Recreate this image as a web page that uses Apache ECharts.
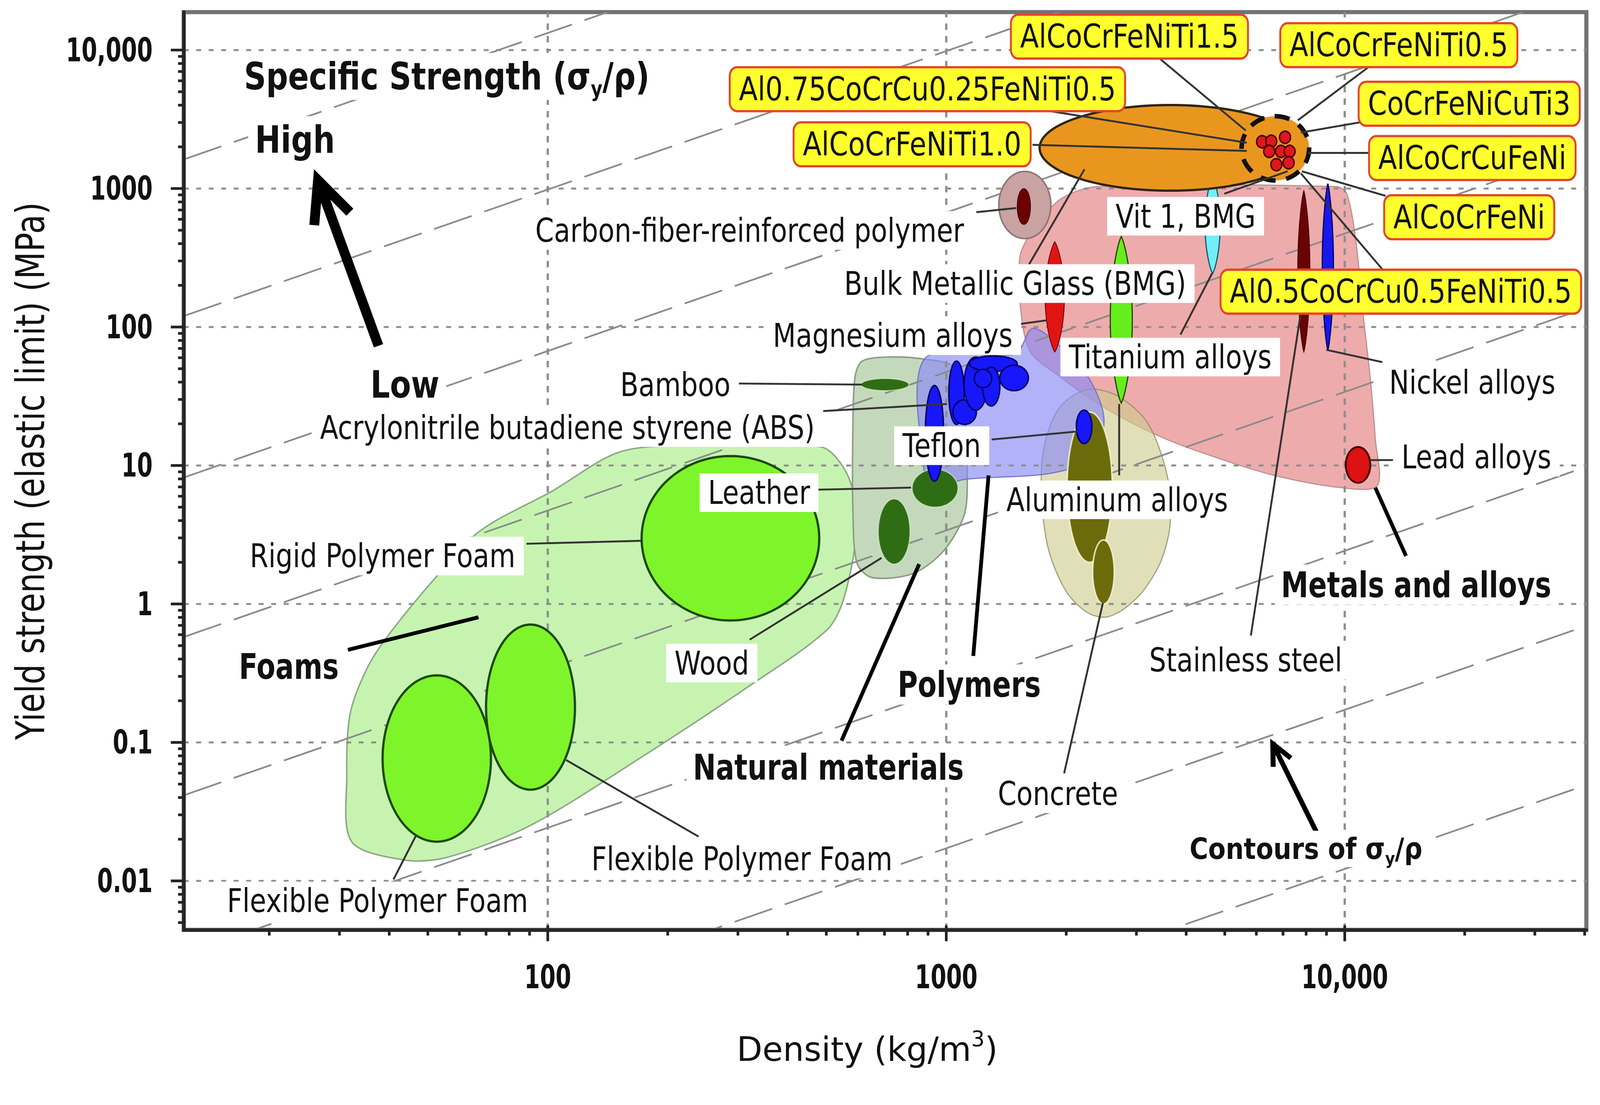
<!DOCTYPE html>
<html>
<head>
<meta charset="utf-8">
<title>Yield strength vs density</title>
<script src="https://cdn.jsdelivr.net/npm/echarts@6/dist/echarts.min.js"></script>
<style>
html, body { margin: 0; padding: 0; background: #ffffff; overflow: hidden; }
#chart { width: 4224px; height: 2829px; transform-origin: 0 0; }
</style>
</head>
<body>
<div id="chart"></div>
<script>
// ---------------- axes ----------------
const densityRange = [12.2, 40400];          // kg/m3
const strengthRange = [0.00443, 18800];      // MPa
const densityTicks = [100, 1000, 10000];
const densityTickLabels = ['100', '1000', '10,000'];
const strengthTicks = [0.01, 0.1, 1, 10, 100, 1000, 10000];
const strengthTickLabels = ['0.01', '0.1', '1', '10', '100', '1000', '10,000'];
// contours of constant specific strength sigma/rho (MPa per kg/m3)
const specificStrengthContours = [133, 9.84, 0.671, 0.0473, 0.0034, 0.000242, 0.0000172, 0.00000122];

// ---------------- material family envelopes [density, strength] ----------------
const foamsEnvelope = [[32.2,0.0192],[31.3,0.0578],[31.9,0.16],[35.2,0.343],[39.9,0.60],[52.6,1.58],[67.8,3.39],[102,6.47],[154,12.7],[261,13.9],[486,13.6],[566,8.48],[597,3.82],[556,1.15],[503,0.654],[316,0.249],[172,0.0784],[90.5,0.0252],[56.4,0.0149],[44.1,0.0141]];
const naturalEnvelope = [[590,43.3],[615,56.7],[712,60.7],[876,58.7],[1045,51.3],[1109,26.0],[1129,7.93],[1109,4.38],[985,2.42],[826,1.66],[652,1.55],[597,1.97],[583,4.76],[583,18.5]];
const metalsEnvelope = [[1534,331],[1675,533],[1941,843],[2386,1033],[9539,1033],[10120,917],[10670,413],[11120,124],[11590,42.5],[11930,15.6],[12070,7.16],[9770,6.92],[6501,8.63],[4057,13.4],[3149,18.2],[2386,28.3],[1941,43.3],[1627,66],[1534,142]];
const ceramicsEnvelope = [[2250,35.3],[2685,31.9],[3204,20.2],[3584,8.48],[3648,3.82],[3459,2.04],[3112,1.23],[2765,0.903],[2501,0.802],[2250,0.873],[2000,1.23],[1809,2.42],[1735,5.65],[1756,13.2],[1919,26.0]];
const polymersEnvelope = [[881,58.7],[1489,63.9],[1646,97.7],[1941,71.9],[2290,41.8],[2487,21.9],[2344,11.5],[1830,8.78],[1109,7.93],[929,6.92],[881,8.63]];

// ---------------- material property ranges [densityMin, densityMax, strengthMin, strengthMax] ----------------
const rigidPolymerFoam = [172, 480, 0.76, 11.7];
const flexibleFoamA = [38.5, 72, 0.0192, 0.305];
const flexibleFoamB = [70, 117, 0.0456, 0.71];
const bamboo = [611, 806, 34.7, 42.5];
const leather = [821, 1070, 5.0, 9.4];
const wood = [675, 811, 1.94, 5.74];
const polymerGrades = [[886,985,7.7,37.8],[1015,1109,19.8,56.7],[1039,1190,19.8,29.8],[1109,1269,25.1,60.7],[1142,1507,47.9,61.8],[1363,1607,34.7,53.0],[1233,1363,26.9,51.3],[1176,1300,36.5,49.5]];
const teflon = [2120, 2320, 14.4, 25.1];
const concreteA = [2010, 2610, 2.0, 24.3];
const concreteB = [2330, 2640, 1.0, 2.9];
const aluminumAlloys = [2580, 2930, 28.3, 450];
const magnesiumAlloys = [1770, 1980, 66, 413];
const vit1 = [4460, 4870, 244, 1224];
const stainlessSteel = [7620, 8180, 66, 965];
const nickelAlloys = [8780, 9370, 68, 1086];
const leadAlloys = [10060, 11590, 7.5, 13.6];
const cfrpOuter = [1355, 1830, 435, 1330];
const cfrpInner = [1507, 1627, 551, 998];
const bulkMetallicGlass = [1715, 7760, 965, 4010];
const heaGroup = [5510, 8140, 1144, 3330];
// high-entropy alloys [density, strength]
const heaAlloys = [[6203,2179],[6540,2198],[6918,1855],[7273,1855],[6737,1488],[7230,1536],[6463,1855],[7083,2344]];

// ---------------- annotations (anchors in data units) ----------------
const materialLabels = [
  ['Carbon-fiber-reinforced polymer', 321, 498],
  ['Bulk Metallic Glass (BMG)', 1489, 206],
  ['Magnesium alloys', 734, 86.7],
  ['Bamboo', 209, 38.4],
  ['Acrylonitrile butadiene styrene (ABS)', 112, 18.8],
  ['Teflon', 974, 13.9],
  ['Leather', 339, 6.36],
  ['Rigid Polymer Foam', 38.5, 2.22],
  ['Wood', 258, 0.374],
  ['Vit 1, BMG', 3987, 631],
  ['Titanium alloys', 3648, 60.7],
  ['Aluminum alloys', 2685, 5.65],
  ['Nickel alloys', 20900, 39.7],
  ['Lead alloys', 21400, 11.5],
  ['Stainless steel', 5643, 0.393],
  ['Concrete', 1907, 0.0426],
  ['Flexible Polymer Foam', 307, 0.01438],
  ['Flexible Polymer Foam', 37.4, 0.00717]
];
const alloyLabels = [
  ['AlCoCrFeNiTi1.5', 2882, 12510],
  ['AlCoCrFeNiTi0.5', 13670, 10850],
  ['Al0.75CoCrCu0.25FeNiTi0.5', 897, 5220],
  ['CoCrFeNiCuTi3', 20530, 4096],
  ['AlCoCrFeNiTi1.0', 821, 2088],
  ['AlCoCrCuFeNi', 20900, 1661],
  ['AlCoCrFeNi', 20530, 621],
  ['Al0.5CoCrCu0.5FeNiTi0.5', 13830, 180]
];
const familyLabels = [
  ['Foams', 22.4, 0.355],
  ['Natural materials', 506, 0.0662],
  ['Polymers', 1142, 0.262],
  ['Metals and alloys', 15110, 1.38]
];
const guideLabels = [
  ['Specific Strength (σ{s|y}/ρ)', 55.8, 6452],
  ['High', 23.2, 2254],
  ['Low', 43.8, 38.4]
];
const contourLabels = [['Contours of σ{s|y}/ρ', 7993, 0.01704]];

const materialLeaders = [
  [[1190,675],[1498,723]], [[1507,104.5],[1787,111.8]], [[1598,270],[2223,1378]],
  [[299.5,39.1],[615,38.4]], [[489,24.7],[1003,27.8]], [[1300,15.4],[2134,17.6]],
  [[474,6.69],[816,6.92]], [[88.4,2.72],[172,2.86]], [[321,0.552],[688,2.15]],
  [[2716,8.48],[2716,27.8]], [[3870,88.2],[4647,244]], [[4986,917],[7189,1332]],
  [[1976,0.0598],[2472,1.017]], [[5813,0.591],[7807,142]], [[8993,68.4],[12430,55.8]],
  [[11520,10.94],[13270,10.94]], [[111.2,0.0746],[239,0.0209]], [[46.7,0.02125],[41.0,0.01024]],
  [[3420,8759],[5643,2626]], [[11460,7519],[7625,3112]], [[10930,3007],[7761,2538]],
  [[11590,1808],[8088,1808]], [[12660,886],[7807,1332]], [[12430,261],[7761,1288]],
  [[1756,3687],[5677,2142]], [[1646,2070],[5677,1870]]
];
const familyLeaders = [
  [[31.5,0.466],[67.0,0.802]], [[546,0.103],[855,1.94]],
  [[1169,0.421],[1277,8.48]], [[11930,6.92],[14250,2.22]]
];
const directionArrows = [
  [[37.6,73.2],[25.9,1378]],
  [[8681,0.01985],[6501,0.1065]]
];

// ---------------- styles ----------------
const FONT = '"DejaVu Sans", "Noto Sans", sans-serif';
const envelopeLayers = [
  {pts: foamsEnvelope, fill: '#c6f4b0', stroke: '#8ea887', lw: 4},
  {pts: naturalEnvelope, fill: '#c4d9bb', stroke: '#8c9c88', lw: 4},
  {pts: metalsEnvelope, fill: '#eeabab', stroke: '#b89090', lw: 3},
  {pts: ceramicsEnvelope, fill: 'rgba(206,204,140,0.62)', stroke: 'rgba(140,140,110,0.8)', lw: 3},
  {pts: polymersEnvelope, fill: 'rgba(138,138,246,0.66)', stroke: 'rgba(110,110,190,0.9)', lw: 3}
];
const foamStyle = {fill: '#7ef42b', stroke: '#1d4a0b', lw: 6};
const naturalStyle = {fill: '#2f6d14', stroke: 'rgba(230,245,220,0.6)', lw: 3};
const oliveStyle = {fill: '#6c6b0b', stroke: 'rgba(245,245,210,0.85)', lw: 4};
const blueStyle = {fill: '#1717fb', stroke: '#06066a', lw: 4};
const ellipseLayers = [
  Object.assign({r: rigidPolymerFoam}, foamStyle),
  Object.assign({r: flexibleFoamA}, foamStyle),
  Object.assign({r: flexibleFoamB}, foamStyle),
  Object.assign({r: bamboo}, naturalStyle),
  Object.assign({r: leather}, naturalStyle),
  Object.assign({r: wood}, naturalStyle),
  Object.assign({r: concreteA}, oliveStyle),
  Object.assign({r: concreteB}, oliveStyle)
].concat(polymerGrades.map(function (r) { return Object.assign({r: r}, blueStyle); })).concat([
  Object.assign({r: teflon}, blueStyle),
  {r: aluminumAlloys, fill: '#66ee1c', stroke: '#1d3d08', lw: 3, lens: true},
  {r: magnesiumAlloys, fill: '#e11414', stroke: '#5c0000', lw: 2, lens: true},
  {r: vit1, fill: '#72ecfb', stroke: '#0e5a66', lw: 3, lens: true},
  {r: stainlessSteel, fill: '#6a0303', stroke: '#3a0000', lw: 2, lens: true},
  {r: nickelAlloys, fill: '#1818ee', stroke: '#00005a', lw: 3, lens: true},
  {r: leadAlloys, fill: '#dd1212', stroke: '#4a0000', lw: 5},
  {r: cfrpOuter, fill: '#c9a2a2', stroke: '#8d7373', lw: 4},
  {r: cfrpInner, fill: '#6c0000', stroke: '#3a0000', lw: 2},
  {r: bulkMetallicGlass, fill: '#e9961f', stroke: '#2e2412', lw: 6},
  {r: heaGroup, fill: '#e9961f', stroke: '#111111', lw: 12, dash: [40, 28]}
]);

// minor ticks at 2..9 of every decade
const densityMinorTicks = [];
for (let e = 1; e <= 4; e++) for (let m = 2; m <= 9; m++) { const v = m * Math.pow(10, e); if (v > densityRange[0] && v < densityRange[1]) densityMinorTicks.push(v); }
const strengthMinorTicks = [];
for (let e = -3; e <= 4; e++) for (let m = 2; m <= 9; m++) { const v = m * Math.pow(10, e); if (v > strengthRange[0] && v < strengthRange[1]) strengthMinorTicks.push(v); }

const tickItems = [];
strengthTicks.forEach(function (v) { tickItems.push({axis: 'y', v: v, major: true}); });
strengthMinorTicks.forEach(function (v) { tickItems.push({axis: 'y', v: v, major: false}); });
densityTicks.forEach(function (v) { tickItems.push({axis: 'x', v: v, major: true}); });
densityMinorTicks.forEach(function (v) { tickItems.push({axis: 'x', v: v, major: false}); });
function tickPos(t) { return t.axis === 'x' ? [t.v, strengthRange[0]] : [densityRange[0], t.v]; }

const tickLabelItems = [];
strengthTicks.forEach(function (v, i) { tickLabelItems.push({axis: 'y', v: v, text: strengthTickLabels[i]}); });
densityTicks.forEach(function (v, i) { tickLabelItems.push({axis: 'x', v: v, text: densityTickLabels[i]}); });

function base(items) { return items.map(function (it) { return [it[1], it[2]]; }); }

function textLayer(items, fmt, z) {
  return {
    type: 'custom', coordinateSystem: 'cartesian2d', z: z, silent: true,
    data: base(items),
    renderItem: function (params, api) {
      const it = items[params.dataIndex];
      const p = api.coord([it[1], it[2]]);
      const st = Object.assign({text: it[0], align: 'center', verticalAlign: 'middle', fill: '#111111', fontFamily: FONT}, fmt.style);
      return {type: 'text', x: p[0], y: p[1], scaleX: fmt.scaleX, style: st};
    }
  };
}

function lineLayer(list, stroke, width, z) {
  return {
    type: 'custom', coordinateSystem: 'cartesian2d', z: z, silent: true,
    data: list.map(function (l) { return l[0]; }),
    renderItem: function (params, api) {
      const l = list[params.dataIndex];
      const a = api.coord(l[0]), b = api.coord(l[1]);
      return {type: 'line', shape: {x1: a[0], y1: a[1], x2: b[0], y2: b[1]}, style: {stroke: stroke, lineWidth: width, lineCap: 'butt'}};
    }
  };
}

const arrowStyles = [{w: 26, head: 108, spread: 50}, {w: 13, head: 55, spread: 26}];

// fit the 4224 x 2829 drawing into the actual viewport
const chartEl = document.getElementById('chart');
const fitScale = Math.min(window.innerWidth / 4224, window.innerHeight / 2829);
if (fitScale > 0 && Math.abs(fitScale - 1) > 0.0005) chartEl.style.transform = 'scale(' + fitScale + ')';

const chart = echarts.init(chartEl, null, {renderer: 'svg', width: 4224, height: 2829});

const option = {
  animation: false,
  backgroundColor: '#ffffff',
  grid: {left: 485, right: 36, top: 32, bottom: 374, show: true, borderColor: '#727272', borderWidth: 11, backgroundColor: 'rgba(0,0,0,0)', containLabel: false, outerBoundsMode: 'none'},
  xAxis: {
    type: 'log', logBase: 10, min: densityRange[0], max: densityRange[1], z: 9,
    axisLine: {show: true, onZero: false, lineStyle: {color: '#262626', width: 9}},
    axisTick: {show: false}, axisLabel: {show: false}, splitLine: {show: false}, minorTick: {show: false}, minorSplitLine: {show: false}
  },
  yAxis: {
    type: 'log', logBase: 10, min: strengthRange[0], max: strengthRange[1], z: 9,
    axisLine: {show: true, onZero: false, lineStyle: {color: '#262626', width: 9}},
    axisTick: {show: false}, axisLabel: {show: false}, splitLine: {show: false}, minorTick: {show: false}, minorSplitLine: {show: false}
  },
  series: [
    // family envelopes
    {
      type: 'custom', coordinateSystem: 'cartesian2d', z: 1, silent: true,
      data: envelopeLayers.map(function (e) { return e.pts[0]; }),
      renderItem: function (params, api) {
        const e = envelopeLayers[params.dataIndex];
        return {type: 'polygon', shape: {points: e.pts.map(function (p) { return api.coord(p); }), smooth: 0.3},
          style: {fill: e.fill, stroke: e.stroke, lineWidth: e.lw}};
      }
    },
    // grid lines
    {
      type: 'custom', coordinateSystem: 'cartesian2d', z: 2, silent: true,
      data: strengthTicks.map(function (v) { return [densityRange[0], v]; }).concat(densityTicks.map(function (v) { return [v, strengthRange[0]]; })),
      renderItem: function (params, api) {
        const i = params.dataIndex, n = strengthTicks.length;
        let a, b, st;
        if (i < n) {
          a = api.coord([densityRange[0], strengthTicks[i]]); b = api.coord([densityRange[1], strengthTicks[i]]);
          st = {stroke: '#8e8e8e', lineWidth: 5, lineDash: [13, 20]};
        } else {
          const v = densityTicks[i - n];
          a = api.coord([v, strengthRange[0]]); b = api.coord([v, strengthRange[1]]);
          st = {stroke: '#8e8e8e', lineWidth: 6, lineDash: [17, 16]};
        }
        return {type: 'line', shape: {x1: a[0], y1: a[1], x2: b[0], y2: b[1]}, style: st};
      }
    },
    // specific strength contours
    {
      type: 'custom', coordinateSystem: 'cartesian2d', z: 3, silent: true, clip: true,
      data: specificStrengthContours.map(function (k) { return [densityRange[0], k * densityRange[0]]; }),
      renderItem: function (params, api) {
        const k = specificStrengthContours[params.dataIndex];
        const a = api.coord([densityRange[0], k * densityRange[0]]), b = api.coord([densityRange[1], k * densityRange[1]]);
        return {type: 'line', shape: {x1: a[0], y1: a[1], x2: b[0], y2: b[1]}, style: {stroke: '#8b8b8b', lineWidth: 4.5, lineDash: [105, 35]}};
      }
    },
    // material bubbles
    {
      type: 'custom', coordinateSystem: 'cartesian2d', z: 4, silent: true,
      data: ellipseLayers.map(function (e) { return [e.r[0], e.r[2]]; }),
      renderItem: function (params, api) {
        const e = ellipseLayers[params.dataIndex];
        const a = api.coord([e.r[0], e.r[3]]), b = api.coord([e.r[1], e.r[2]]);
        const cx = (a[0] + b[0]) / 2, cy = (a[1] + b[1]) / 2;
        const rx = Math.abs(b[0] - a[0]) / 2, ry = Math.abs(b[1] - a[1]) / 2;
        const pts = [];
        const N = 160;
        if (e.lens) {
          for (let i = 0; i <= N / 2; i++) { const s = -1 + 4 * i / N; pts.push([cx + rx * Math.pow(Math.max(0, 1 - s * s), 0.8), cy + ry * s]); }
          for (let i = 1; i < N / 2; i++) { const s = 1 - 4 * i / N; pts.push([cx - rx * Math.pow(Math.max(0, 1 - s * s), 0.8), cy + ry * s]); }
        } else {
          for (let i = 0; i < N; i++) { const t = 2 * Math.PI * i / N; pts.push([cx + rx * Math.cos(t), cy + ry * Math.sin(t)]); }
        }
        const st = {fill: e.fill, stroke: e.stroke, lineWidth: e.lw};
        if (e.dash) st.lineDash = e.dash;
        return {type: 'polygon', shape: {points: pts}, style: st};
      }
    },
    // high-entropy alloys
    {
      type: 'scatter', z: 5, silent: true, data: heaAlloys, symbol: 'circle', symbolSize: [29, 32],
      itemStyle: {color: '#e2161c', borderColor: '#4a0000', borderWidth: 4, opacity: 1}
    },
    lineLayer(materialLeaders, '#333333', 5, 6),
    lineLayer(familyLeaders, '#000000', 10, 6),
    // arrows
    {
      type: 'custom', coordinateSystem: 'cartesian2d', z: 6, silent: true,
      data: directionArrows.map(function (a) { return a[0]; }),
      renderItem: function (params, api) {
        const ar = directionArrows[params.dataIndex], s = arrowStyles[params.dataIndex];
        const p0 = api.coord(ar[0]), p1 = api.coord(ar[1]);
        const dx = p1[0] - p0[0], dy = p1[1] - p0[1], len = Math.sqrt(dx * dx + dy * dy);
        const ux = dx / len, uy = dy / len, nx = -uy, ny = ux;
        const half = Math.atan(s.spread / s.head);
        const ext = (s.w / 2) / Math.sin(half);
        const tip = [p1[0] - ux * ext, p1[1] - uy * ext];
        const back = [tip[0] - ux * s.head, tip[1] - uy * s.head];
        return {type: 'group', children: [
          {type: 'line', shape: {x1: p0[0], y1: p0[1], x2: tip[0] - ux * s.w * 0.3, y2: tip[1] - uy * s.w * 0.3}, style: {stroke: '#000', lineWidth: s.w}},
          {type: 'polyline', shape: {points: [[back[0] + nx * s.spread, back[1] + ny * s.spread], tip, [back[0] - nx * s.spread, back[1] - ny * s.spread]]},
            style: {stroke: '#000', lineWidth: s.w, fill: null, lineJoin: 'miter', miterLimit: 20}}
        ]};
      }
    },
    textLayer(materialLabels, {scaleX: 0.82, style: {fontSize: 86, backgroundColor: '#ffffff', padding: [8, 27]}}, 7),
    textLayer(alloyLabels, {scaleX: 0.84, style: {fontSize: 86, backgroundColor: '#ffff2e', borderColor: '#e2462c', borderWidth: 6, borderRadius: 20, padding: [12, 26]}}, 7),
    textLayer(familyLabels, {scaleX: 0.77, style: {fontSize: 94, fontWeight: 'bold', backgroundColor: '#ffffff', padding: [6, 22]}}, 7),
    textLayer(guideLabels, {scaleX: 0.81, style: {fontSize: 100, fontWeight: 'bold', backgroundColor: '#ffffff', padding: [0, 22], lineHeight: 124,
      rich: {s: {fontSize: 58, fontWeight: 'bold', fontFamily: FONT, fill: '#111111', verticalAlign: 'bottom'}}}}, 7),
    textLayer(contourLabels, {scaleX: 0.86, style: {fontSize: 78, fontWeight: 'bold', backgroundColor: '#ffffff', padding: [0, 18], lineHeight: 96,
      rich: {s: {fontSize: 46, fontWeight: 'bold', fontFamily: FONT, fill: '#111111', verticalAlign: 'bottom'}}}}, 7),
    // axis ticks
    {
      type: 'custom', coordinateSystem: 'cartesian2d', z: 8, silent: true,
      data: tickItems.map(tickPos),
      renderItem: function (params, api) {
        const t = tickItems[params.dataIndex];
        const p = api.coord(tickPos(t));
        let sh;
        if (t.axis === 'y') sh = t.major ? {x1: p[0] - 34, y1: p[1], x2: p[0] + 3, y2: p[1]} : {x1: p[0] - 15, y1: p[1], x2: p[0] + 5, y2: p[1]};
        else sh = t.major ? {x1: p[0], y1: p[1] - 12, x2: p[0], y2: p[1] + 30} : {x1: p[0], y1: p[1], x2: p[0], y2: p[1] + 15};
        return {type: 'line', shape: sh, style: {stroke: '#222222', lineWidth: 7}};
      }
    },
    // tick labels
    {
      type: 'custom', coordinateSystem: 'cartesian2d', z: 8, silent: true,
      data: tickLabelItems.map(function (t) { return t.axis === 'x' ? [t.v, strengthRange[0]] : [densityRange[0], t.v]; }),
      renderItem: function (params, api) {
        const t = tickLabelItems[params.dataIndex];
        const p = api.coord(t.axis === 'x' ? [t.v, strengthRange[0]] : [densityRange[0], t.v]);
        const st = {text: t.text, fontFamily: FONT, fontSize: 86, fontWeight: 'bold', fill: '#111111'};
        if (t.axis === 'y') { st.align = 'right'; st.verticalAlign = 'middle'; return {type: 'text', x: p[0] - 82, y: p[1], scaleX: 0.69, style: st}; }
        st.align = 'center'; st.verticalAlign = 'middle';
        return {type: 'text', x: p[0], y: p[1] + 125, scaleX: 0.69, style: st};
      }
    },
    // axis titles
    {
      type: 'custom', coordinateSystem: 'cartesian2d', z: 8, silent: true,
      data: [[densityRange[0], strengthRange[0]], [densityRange[0], strengthRange[0]]],
      renderItem: function (params, api) {
        const lo = api.coord([densityRange[0], strengthRange[0]]), hi = api.coord([densityRange[1], strengthRange[1]]);
        if (params.dataIndex === 0) {
          return {type: 'text', x: lo[0] - 405, y: (lo[1] + hi[1]) / 2, rotation: Math.PI / 2, scaleX: 0.8,
            style: {text: 'Yield strength (elastic limit) (MPa)', fontFamily: FONT, fontSize: 105, fill: '#111111', align: 'center', verticalAlign: 'middle'}};
        }
        return {type: 'text', x: (lo[0] + hi[0]) / 2 - 47, y: lo[1] + 315,
          style: {text: 'Density (kg/m{sup|3})', fontFamily: FONT, fontSize: 88, fill: '#111111', align: 'center', verticalAlign: 'middle', lineHeight: 110,
            rich: {sup: {fontSize: 56, fontFamily: FONT, fill: '#111111', verticalAlign: 'top'}}}};
      }
    }
  ]
};
chart.setOption(option);
</script>
</body>
</html>
